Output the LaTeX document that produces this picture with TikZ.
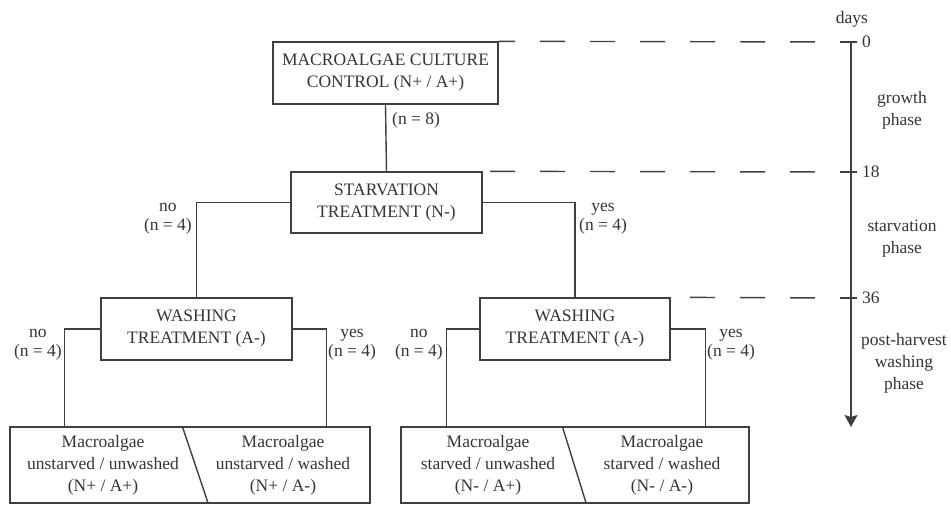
\documentclass[tikz,border=0pt]{standalone}
\usepackage{fontspec}
\setmainfont{Liberation Serif}
\usetikzlibrary{arrows.meta}
\definecolor{inkgray}{HTML}{353535}
\definecolor{linegray}{HTML}{404040}
\newcommand{\txtsize}{\rmfamily\fontsize{17.5}{22}\selectfont}
\newcommand{\lblsize}{\rmfamily\fontsize{17.5}{19}\selectfont}

\begin{document}
\begin{tikzpicture}[x=1pt,y=-1pt]
   \tikzset{Line/.style={draw=linegray, line width=1.4pt}}
   \tikzset{Box/.style={Line, rectangle, align=center, font=\txtsize, text=inkgray, inner sep=0pt}}
   \tikzset{Txt/.style={align=center, font=\txtsize, text=inkgray, inner sep=0pt}}
   \tikzset{Lbl/.style={align=center, font=\lblsize, text=inkgray, inner sep=0pt}}
   \tikzset{DayLine/.style={Line, dash pattern=on 25pt off 25pt, dash phase=25pt}}
   \useasboundingbox (0,0) rectangle (951,506);

   % boxes
   \node[Box, minimum width=225, minimum height=62] (Ctrl) at (385.5,73) {MACROALGAE CULTURE\\CONTROL (N+ / A+)};
   \node[Box, minimum width=191, minimum height=61] (Starv) at (386.5,202.5) {STARVATION\\TREATMENT (N-)};
   \node[Box, minimum width=191, minimum height=62] (WashL) at (196.5,329) {WASHING\\TREATMENT (A-)};
   \node[Box, minimum width=190, minimum height=62] (WashR) at (575,329) {WASHING\\TREATMENT (A-)};
   \node[Box, minimum width=360, minimum height=76] (GroupL) at (190,465) {};
   \node[Box, minimum width=348, minimum height=76] (GroupR) at (575,465) {};
   \draw[Line] ([xshift=173pt]GroupL.north west) -- ([xshift=199pt]GroupL.south west);
   \draw[Line] ([xshift=162pt]GroupR.north west) -- ([xshift=186pt]GroupR.south west);
   \node[Txt] (UnUn) at (103,465) {Macroalgae\\unstarved / unwashed\\(N+ / A+)};
   \node[Txt] (UnWa) at (283,465) {Macroalgae\\unstarved / washed\\(N+ / A-)};
   \node[Txt] (StUn) at (488,465) {Macroalgae\\starved / unwashed\\(N- / A+)};
   \node[Txt] (StWa) at (662,465) {Macroalgae\\starved / washed\\(N- / A-)};

   % branches
   \draw[Line] (Ctrl.south) -- (Starv.north);
   \draw[Line] (Starv.west) -| (WashL.north);
   \draw[Line] (Starv.east) -| (WashR.north);
   \draw[Line] (WashL.west) -- ++(-36,0) coordinate (bLL) -- (bLL |- GroupL.north);
   \draw[Line] (WashL.east) -- ++(34,0) coordinate (bLR) -- (bLR |- GroupL.north);
   \draw[Line] (WashR.west) -- ++(-33,0) coordinate (bRL) -- (bRL |- GroupR.north);
   \draw[Line] (WashR.east) -- ++(35,0) coordinate (bRR) -- (bRR |- GroupR.north);

   \node[Lbl, anchor=west] (nCtrl) at (392,120) {(n = 8)};
   \node[Lbl, anchor=east] (noS) at (192,218.5) {no\\(n = 4)};
   \node[Lbl, anchor=west] (yesS) at (579,218.5) {yes\\(n = 4)};
   \node[Lbl, anchor=east] (noWL) at (62,344.5) {no\\(n = 4)};
   \node[Lbl, anchor=west] (yesWL) at (328,344.5) {yes\\(n = 4)};
   \node[Lbl, anchor=east] (noWR) at (443,344.5) {no\\(n = 4)};
   \node[Lbl, anchor=west] (yesWR) at (707,344.5) {yes\\(n = 4)};

   % time axis
   \coordinate (axisTop) at (851,42);
   \coordinate (axisEnd) at (851,427);
   \draw[Line, -{Stealth[length=12pt,width=13pt,inset=2pt]}] (axisTop) -- (axisEnd);
   \node[Txt] (days) at (852,19) {days};
   \foreach \d/\y in {0/42,18/172,36/298} {
      \coordinate (t\d) at (840,\y);
      \draw[Line] (t\d) -- ++(17,0);
      \node[Txt, anchor=west] (day\d) at (862,\y) {\d};
   }
   \draw[DayLine] (t0) -- (Ctrl.north east);
   \draw[DayLine] (t18) -- (Starv.north east);
   \draw[DayLine] (t36) -- (WashR.north east);

   \node[Txt] (growth) at (902,110) {growth\\phase};
   \node[Txt] (starvph) at (902,238.5) {starvation\\phase};
   \node[Txt] (washph) at (904,363) {post-harvest\\washing\\phase};
\end{tikzpicture}
\end{document}
